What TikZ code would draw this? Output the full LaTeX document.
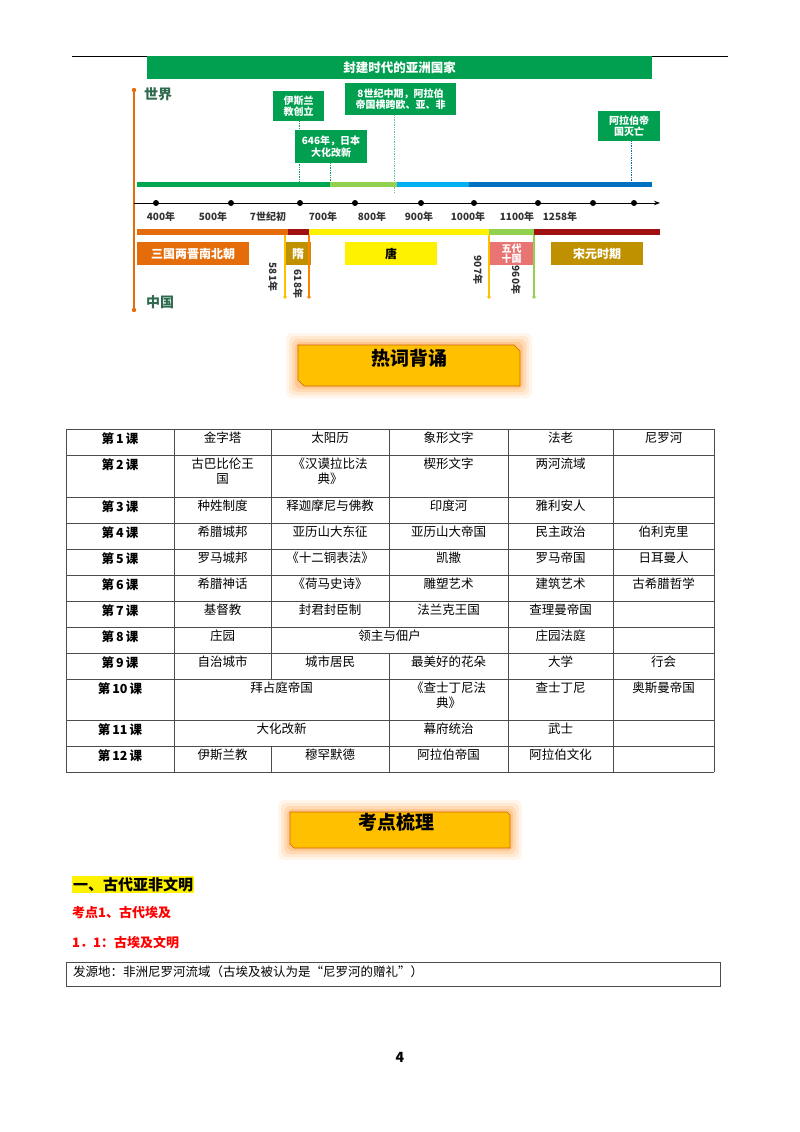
\documentclass[tikz,border=0pt]{standalone}
\usepackage{fontspec}
\setmainfont{Noto Sans CJK SC}
\usetikzlibrary{arrows.meta}
\definecolor{dg}{HTML}{00A651}
\definecolor{tgreen}{HTML}{00A050}
\definecolor{lgreen}{HTML}{92D050}
\definecolor{lblue}{HTML}{00B0F0}
\definecolor{dblue}{HTML}{0070C0}
\definecolor{orng}{HTML}{E46C0A}
\definecolor{dred}{HTML}{A01010}
\definecolor{gold}{HTML}{BF9000}
\definecolor{salmon}{HTML}{E87474}
\definecolor{hdr}{HTML}{FFC000}
\definecolor{lab}{HTML}{2E6B4E}
\tikzset{
 gbox/.style={fill=tgreen,text=white,font=\fontsize{10}{11.5}\selectfont\bfseries,align=center,inner sep=1pt},
 dotl/.style={densely dotted,line width=0.7pt},
 bar/.style={line width=5pt},
 pbox/.style={font=\fontsize{12}{13}\selectfont\bfseries,inner sep=0pt},
 yr/.style={font=\fontsize{10}{11}\selectfont\bfseries,text=black!80},
 cell/.style={font=\fontsize{12.5}{15}\selectfont,align=center,anchor=north,inner sep=0pt},
 lcell/.style={font=\fontsize{12.5}{15}\selectfont\bfseries,anchor=north,inner sep=0pt},
 tl/.style={line width=0.7pt,black!70},
 hbox/.style={fill=hdr,draw=orange!80!black,line width=0.6pt},
}
\begin{document}
\begin{tikzpicture}[x=1pt,y=-1pt]
\useasboundingbox (0,0) rectangle (800,1132);
\draw[line width=0.8pt] (72,56) -- (728,56);
% timeline
\node[fill=tgreen,minimum width=505,minimum height=22,inner sep=0,text=white,font=\fontsize{12.5}{13}\selectfont\bfseries] (ban) at (399.5,67.5) {封建时代的亚洲国家};
\draw[orng,line width=1.5pt] (134,90) -- (134,310);
\fill[orng] (134,90) circle (2.2) (134,310) circle (2.2);
\node[font=\fontsize{14}{15}\selectfont\bfseries,text=lab] (sj) at (158,94) {世界};
\node[font=\fontsize{14}{15}\selectfont\bfseries,text=lab] (zg) at (160,302) {中国};
\node[gbox,minimum width=51,minimum height=30] (b1) at (298.5,106) {伊斯兰\\教创立};
\node[gbox,minimum width=111,minimum height=32] (b2) at (400.5,99) {8世纪中期，阿拉伯\\帝国横跨欧、亚、非};
\node[gbox,minimum width=72,minimum height=33] (b3) at (331,146.5) {646年，日本\\大化改新};
\node[gbox,minimum width=62,minimum height=30] (b4) at (629,126) {阿拉伯帝\\国灭亡};
\coordinate (d1) at (299,184); \coordinate (d2) at (330,184); \coordinate (d3) at (394,193); \coordinate (d4) at (631,184);
\draw[dotl,tgreen] (b1.south -| d1) -- (d1);
\draw[dotl,tgreen] (b3.south -| d2) -- (d2);
\draw[dotl,tgreen!60] (b2.south -| d3) -- (d3);
\draw[dotl,dblue] (b4.south -| d4) -- (d4);
\draw[bar,dg] (137,184) -- (330,184);
\draw[bar,lgreen] (330,184) -- (397,184);
\draw[bar,lblue] (397,184) -- (469,184);
\draw[bar,dblue] (469,184) -- (652,184);
\coordinate (ax0) at (134,203); \coordinate (ax1) at (660,203);
\draw[line width=1pt,-{Stealth[length=6pt]}] (ax0) -- (ax1);
\foreach \x in {156,231,300,355,421,474,538,593,634} \fill (\x,203) circle (3);
\foreach \x/\t in {161/400年,213/500年,268/7世纪初,323/700年,372/800年,419/900年,468/1000年,517/1100年,560/1258年}
  \node[yr] at (\x,217) {\t};
\draw[line width=6pt,orng] (137,232) -- (288,232);
\draw[line width=6pt,dred] (288,232) -- (309,232);
\draw[line width=6pt,yellow] (309,232) -- (489,232);
\draw[line width=6pt,lgreen] (489,232) -- (534,232);
\draw[line width=6pt,dred] (534,232) -- (660,232);
\node[pbox,fill=orng,text=white,minimum width=112,minimum height=23] (p1) at (193,253.5) {三国两晋南北朝};
\node[pbox,fill=gold,text=white,minimum width=26,minimum height=23] (p2) at (298,253.5) {隋};
\node[pbox,fill=yellow,text=black,minimum width=92,minimum height=23] (p3) at (391,253.5) {唐};
\node[pbox,fill=salmon,text=white,minimum width=45,minimum height=23,align=center,font=\fontsize{10}{10.5}\selectfont\bfseries] (p4) at (511.5,253.5) {五代\\十国};
\node[pbox,fill=gold,text=white,minimum width=92,minimum height=23] (p5) at (597,253.5) {宋元时期};
\foreach \x/\c in {285/hdr,309/orange,489/hdr,534/lgreen}{
  \draw[\c,line width=1.3pt] (\x,235) -- (\x,297);
  \fill[\c] (\x,297) circle (1.8);}
\node[yr,rotate=-90] (y1) at (273,277) {581年};
\node[yr,rotate=-90] (y2) at (298,284) {618年};
\node[yr,rotate=-90] (y3) at (478,270) {907年};
\node[yr,rotate=-90] (y4) at (516,280) {960年};
% heading 1
\foreach \w/\o in {12/0.08,9/0.1,6/0.15,3/0.2}
  \fill[orange,opacity=\o,rounded corners=6] (298-\w,345-\w) rectangle (520+\w,386+\w);
\draw[hbox] (298,345) -- (514,345) -- (520,351) -- (520,386) -- (304,386) -- (298,380) -- cycle;
\node[font=\fontsize{19}{20}\selectfont\bfseries] (h1) at (409,358) {热词背诵};
% table
\foreach \y in {429,455,497,523,549,575,601,627,653,679,720,746,772} \draw[tl] (66,\y) -- (714,\y);
\foreach \x in {66,174,508,613,714} \draw[tl] (\x,429) -- (\x,772);
\draw[tl] (271,429) -- (271,679) (271,746) -- (271,772);
\draw[tl] (389,429) -- (389,627) (389,653) -- (389,772);
\foreach \i/\y/\a/\b/\c/\d/\e in {
 1/432/金字塔/太阳历/象形文字/法老/尼罗河,
 2/458/古巴比伦王\\国/《汉谟拉比法\\典》/楔形文字/两河流域/,
 3/500/种姓制度/释迦摩尼与佛教/印度河/雅利安人/,
 4/526/希腊城邦/亚历山大东征/亚历山大帝国/民主政治/伯利克里,
 5/552/罗马城邦/《十二铜表法》/凯撒/罗马帝国/日耳曼人,
 6/578/希腊神话/《荷马史诗》/雕塑艺术/建筑艺术/古希腊哲学,
 7/604/基督教/封君封臣制/法兰克王国/查理曼帝国/,
 9/656/自治城市/城市居民/最美好的花朵/大学/行会,
 12/749/伊斯兰教/穆罕默德/阿拉伯帝国/阿拉伯文化/}{
 \node[lcell] (k\i) at (120,\y) {第\,\i\,课};
 \node[cell] (a\i) at (222.5,\y) {\a};
 \node[cell] (b\i) at (330,\y) {\b};
 \node[cell] (c\i) at (448.5,\y) {\c};
 \node[cell] (d\i) at (560.5,\y) {\d};
 \node[cell] (e\i) at (663.5,\y) {\e};}
\node[lcell] (k8) at (120,630) {第\,8\,课};
\node[cell] (a8) at (222.5,630) {庄园};
\node[cell] (b8) at (389.5,630) {领主与佃户};
\node[cell] (d8) at (560.5,630) {庄园法庭};
\node[lcell] (k10) at (120,682) {第\,10\,课};
\node[cell] (a10) at (281.5,682) {拜占庭帝国};
\node[cell] (c10) at (448.5,682) {《查士丁尼法\\典》};
\node[cell] (d10) at (560.5,682) {查士丁尼};
\node[cell] (e10) at (663.5,682) {奥斯曼帝国};
\node[lcell] (k11) at (120,723) {第\,11\,课};
\node[cell] (a11) at (281.5,723) {大化改新};
\node[cell] (c11) at (448.5,723) {幕府统治};
\node[cell] (d11) at (560.5,723) {武士};
% heading 2
\foreach \w/\o in {12/0.08,9/0.1,6/0.15,3/0.2}
  \fill[orange,opacity=\o,rounded corners=6] (290-\w,812-\w) rectangle (510+\w,848+\w);
\draw[hbox] (290,812) -- (507,812) -- (510,815) -- (510,848) -- (294,848) -- (290,844) -- cycle;
\node[font=\fontsize{19}{20}\selectfont\bfseries] (h2) at (396,822) {考点梳理};
% sections
\node[fill=yellow,inner sep=1pt,anchor=west,font=\fontsize{15}{16}\selectfont\bfseries] (s1) at (72,884.5) {一、古代亚非文明};
\node[anchor=west,text=red,inner sep=0,font=\fontsize{13}{14}\selectfont\bfseries] (s2) at (72,913) {考点1、古代埃及};
\node[anchor=west,text=red,inner sep=0,font=\fontsize{13}{14}\selectfont\bfseries] (s3) at (72,943) {1．1：古埃及文明};
\draw[line width=0.8pt,black!70] (66,962) rectangle (720,986);
\node[anchor=west,inner sep=0,font=\fontsize{12.5}{13}\selectfont] (s4) at (73,972) {发源地：非洲尼罗河流域（古埃及被认为是“尼罗河的赠礼”）};
\node[font=\fontsize{14}{15}\selectfont\bfseries] (pg) at (400,1057) {4};
\end{tikzpicture}
\end{document}
